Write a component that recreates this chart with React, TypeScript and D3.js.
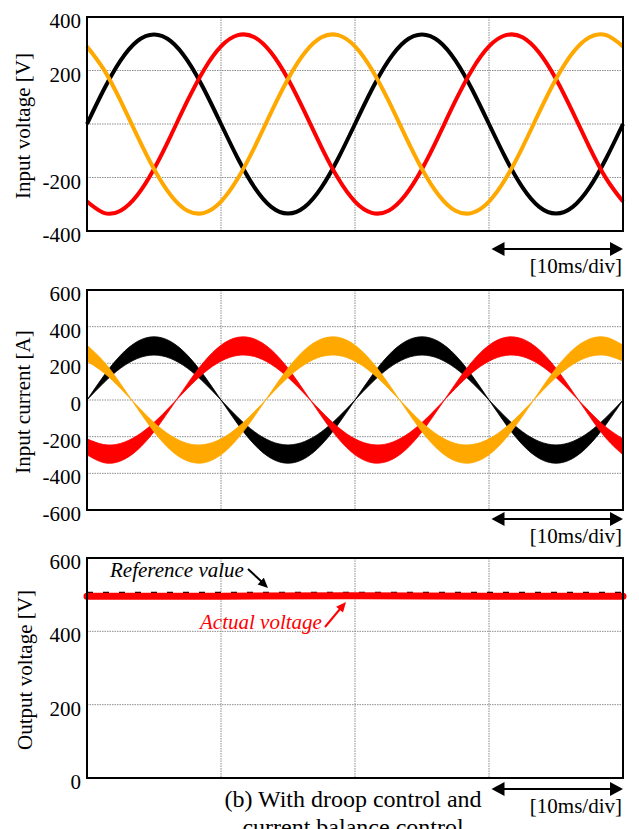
import { useEffect, useRef } from "react"
import * as d3 from "d3"

// sample times [ms], 1.25 ms step, 4 divisions of 10 ms
const timeMs = [
  0, 1.25, 2.5, 3.75, 5, 6.25, 7.5, 8.75, 10, 11.25, 12.5, 13.75, 15, 16.25, 17.5, 18.75, 20,
  21.25, 22.5, 23.75, 25, 26.25, 27.5, 28.75, 30, 31.25, 32.5, 33.75, 35, 36.25, 37.5, 38.75, 40,
]

// input voltage [V]
const voltBlack = [
  0, 128, 237, 310, 335, 310, 237, 128, 0, -128, -237, -310, -335, -310, -237, -128, 0,
  128, 237, 310, 335, 310, 237, 128, 0, -128, -237, -310, -335, -310, -237, -128, 0,
]
const voltRed = [
  -290, -332, -324, -266, -168, -44, 87, 204, 290, 332, 324, 266, 168, 44, -87, -204, -290,
  -332, -324, -266, -168, -44, 87, 204, 290, 332, 324, 266, 168, 44, -87, -204, -290,
]
const voltOrange = [
  290, 204, 87, -44, -168, -266, -324, -332, -290, -204, -87, 44, 168, 266, 324, 332, 290,
  204, 87, -44, -168, -266, -324, -332, -290, -204, -87, 44, 168, 266, 324, 332, 290,
]

// input current [A], ripple band: outer / inner envelope
const currBlackOuter = [
  0, 132, 244, 319, 345, 319, 244, 132, 0, -132, -244, -319, -345, -319, -244, -132, 0,
  132, 244, 319, 345, 319, 244, 132, 0, -132, -244, -319, -345, -319, -244, -132, 0,
]
const currBlackInner = [
  0, 94, 173, 226, 245, 226, 173, 94, 0, -94, -173, -226, -245, -226, -173, -94, 0,
  94, 173, 226, 245, 226, 173, 94, 0, -94, -173, -226, -245, -226, -173, -94, 0,
]
const currRedOuter = [
  -299, -342, -333, -274, -173, -45, 89, 210, 299, 342, 333, 274, 173, 45, -89, -210, -299,
  -342, -333, -274, -173, -45, 89, 210, 299, 342, 333, 274, 173, 45, -89, -210, -299,
]
const currRedInner = [
  -212, -243, -237, -194, -123, -32, 63, 149, 212, 243, 237, 194, 123, 32, -63, -149, -212,
  -243, -237, -194, -123, -32, 63, 149, 212, 243, 237, 194, 123, 32, -63, -149, -212,
]
const currOrangeOuter = [
  299, 210, 89, -45, -173, -274, -333, -342, -299, -210, -89, 45, 173, 274, 333, 342, 299,
  210, 89, -45, -173, -274, -333, -342, -299, -210, -89, 45, 173, 274, 333, 342, 299,
]
const currOrangeInner = [
  212, 149, 63, -32, -123, -194, -237, -243, -212, -149, -63, 32, 123, 194, 237, 243, 212,
  149, 63, -32, -123, -194, -237, -243, -212, -149, -63, 32, 123, 194, 237, 243, 212,
]

// output voltage [V]
const outTimeMs = [0, 10, 20, 30, 40]
const outReference = [506, 506, 506, 506, 506]
const outActual = [496, 496, 497, 496, 496]

const voltTicks = [400, 200, -200, -400]
const currTicks = [600, 400, 200, 0, -200, -400, -600]
const outTicks = [600, 400, 200, 0]

const RED = "#ff0000"
const ORANGE = "#ffa800"
const FONT = "'Liberation Serif', 'Times New Roman', serif"

export default function App() {
  const svgRef = useRef<SVGSVGElement>(null)

  useEffect(() => {
    if (!svgRef.current) return
    const svg = d3.select(svgRef.current)
    svg.selectAll("*").remove()

    const x = d3.scaleLinear().domain([0, 40]).range([87, 623])

    const panels = [
      { top: 17, bottom: 231, domain: [-400, 400], ticks: voltTicks, grid: [200, 0, -200], title: "Input voltage [V]", titleX: 30, arrowY: 249, labelY: 273 },
      { top: 290, bottom: 510, domain: [-600, 600], ticks: currTicks, grid: [400, 200, 0, -200, -400], title: "Input current [A]", titleX: 30, arrowY: 519, labelY: 543 },
      { top: 558, bottom: 778, domain: [0, 600], ticks: outTicks, grid: [400, 200], title: "Output voltage [V]", titleX: 32, arrowY: 789, labelY: 813 },
    ]

    const drawArrowHead = (g: any, tx: number, ty: number, angle: number, len: number, half: number, color: string) => {
      const bx = tx - len * Math.cos(angle)
      const by = ty - len * Math.sin(angle)
      const px = -Math.sin(angle) * half
      const py = Math.cos(angle) * half
      g.append("path")
        .attr("d", `M${tx},${ty}L${bx + px},${by + py}L${bx - px},${by - py}Z`)
        .attr("fill", color)
    }

    const scales = panels.map((p) => {
      const y = d3.scaleLinear().domain(p.domain).range([p.bottom, p.top])
      const g = svg.append("g")

      // grid
      g.selectAll(".hgrid")
        .data(p.grid)
        .enter()
        .append("line")
        .attr("x1", x(0))
        .attr("x2", x(40))
        .attr("y1", (d) => y(d))
        .attr("y2", (d) => y(d))
        .attr("stroke", "#8c8c8c")
        .attr("stroke-width", 1)
        .attr("stroke-dasharray", "1.5,1")
      g.selectAll(".vgrid")
        .data([10, 20, 30])
        .enter()
        .append("line")
        .attr("x1", (d) => x(d))
        .attr("x2", (d) => x(d))
        .attr("y1", p.top)
        .attr("y2", p.bottom)
        .attr("stroke", "#8c8c8c")
        .attr("stroke-width", 1)
        .attr("stroke-dasharray", "1.5,1")

      // y axis labels (plain hyphen for negatives)
      const ax = g
        .append("g")
        .attr("transform", `translate(${x(0)},0)`)
        .call(d3.axisLeft(y).tickValues(p.ticks).tickSize(0).tickPadding(6).tickFormat((d) => String(d)))
      ax.select(".domain").remove()
      ax.selectAll("text")
        .attr("dy", "0.5em")
        .attr("fill", "#000")
        .style("font-family", FONT)
        .style("font-size", "21px")

      g.append("text")
        .attr("transform", `translate(${p.titleX},${(p.top + p.bottom) / 2 + 2}) rotate(-90)`)
        .attr("text-anchor", "middle")
        .style("font-family", FONT)
        .style("font-size", "21px")
        .text(p.title)

      // 10ms/div marker
      const ax1 = x(30) + 2.5
      const ax2 = x(40)
      g.append("line")
        .attr("x1", ax1 + 8)
        .attr("x2", ax2 - 8)
        .attr("y1", p.arrowY)
        .attr("y2", p.arrowY)
        .attr("stroke", "#000")
        .attr("stroke-width", 2)
      drawArrowHead(g, ax1, p.arrowY, Math.PI, 13, 7, "#000")
      drawArrowHead(g, ax2, p.arrowY, 0, 13, 7, "#000")
      g.append("text")
        .attr("x", 622)
        .attr("y", p.labelY)
        .attr("text-anchor", "end")
        .style("font-family", FONT)
        .style("font-size", "21px")
        .text("[10ms/div]")

      return { y, g, p }
    })

    // panel 1: input voltage
    {
      const { y, g } = scales[0]
      const line = d3
        .line<number>()
        .x((_, i) => x(timeMs[i]))
        .y((d) => y(d))
        .curve(d3.curveNatural)
      const series: [number[], string][] = [
        [voltBlack, "#000"],
        [voltRed, RED],
        [voltOrange, ORANGE],
      ]
      series.forEach(([vals, color]) => {
        g.append("path")
          .datum(vals)
          .attr("fill", "none")
          .attr("stroke", color)
          .attr("stroke-width", 4)
          .attr("d", line)
      })
    }

    // panel 2: input current bands
    {
      const { y, g } = scales[1]
      const bands: [number[], number[], string][] = [
        [currBlackOuter, currBlackInner, "#000"],
        [currRedOuter, currRedInner, RED],
        [currOrangeOuter, currOrangeInner, ORANGE],
      ]
      bands.forEach(([outer, inner, color]) => {
        const area = d3
          .area<number>()
          .x((_, i) => x(timeMs[i]))
          .y0((d) => y(d))
          .y1((_, i) => y(inner[i]))
          .curve(d3.curveNatural)
        g.append("path")
          .datum(outer)
          .attr("fill", color)
          .attr("stroke", color)
          .attr("stroke-width", 0.8)
          .attr("d", area)
      })
    }

    // panel 3: output voltage
    {
      const { y, g } = scales[2]
      const line = d3
        .line<number>()
        .x((_, i) => x(outTimeMs[i]))
        .y((d) => y(d))
      g.append("path")
        .datum(outReference)
        .attr("fill", "none")
        .attr("stroke", "#000")
        .attr("stroke-width", 1.5)
        .attr("stroke-dasharray", "6,10")
        .attr("d", line)
      g.append("path")
        .datum(outActual)
        .attr("fill", "none")
        .attr("stroke", RED)
        .attr("stroke-width", 7)
        .attr("stroke-linecap", "round")
        .attr("d", line)

      g.append("text")
        .attr("x", 110)
        .attr("y", 577)
        .style("font-family", FONT)
        .style("font-size", "21px")
        .style("font-style", "italic")
        .text("Reference value")
      g.append("line")
        .attr("x1", 248)
        .attr("y1", 569)
        .attr("x2", 262)
        .attr("y2", 582)
        .attr("stroke", "#000")
        .attr("stroke-width", 2)
      drawArrowHead(g, 268, 588, Math.atan2(19, 20), 10, 4.5, "#000")

      g.append("text")
        .attr("x", 200)
        .attr("y", 629)
        .attr("fill", RED)
        .style("font-family", FONT)
        .style("font-size", "21px")
        .style("font-style", "italic")
        .text("Actual voltage")
      g.append("line")
        .attr("x1", 325)
        .attr("y1", 627)
        .attr("x2", 340)
        .attr("y2", 609)
        .attr("stroke", RED)
        .attr("stroke-width", 2)
      drawArrowHead(g, 346, 602, Math.atan2(-25, 21), 10, 4.5, RED)
    }

    // frames on top
    panels.forEach((p) => {
      svg
        .append("rect")
        .attr("x", x(0))
        .attr("y", p.top)
        .attr("width", x(40) - x(0))
        .attr("height", p.bottom - p.top)
        .attr("fill", "none")
        .attr("stroke", "#000")
        .attr("stroke-width", 2)
    })

    // caption (second line runs off the bottom edge, as in the source figure)
    const cap = svg
      .append("text")
      .attr("text-anchor", "middle")
      .style("font-family", FONT)
      .style("font-size", "24px")
    cap.append("tspan").attr("x", 353).attr("y", 807).text("(b) With droop control and")
    cap.append("tspan").attr("x", 353).attr("y", 835).text("current balance control")
  }, [])

  return (
    <svg
      ref={svgRef}
      width={639}
      height={829}
      style={{ position: "absolute", left: 0, top: 0, background: "#fff" }}
    />
  )
}
